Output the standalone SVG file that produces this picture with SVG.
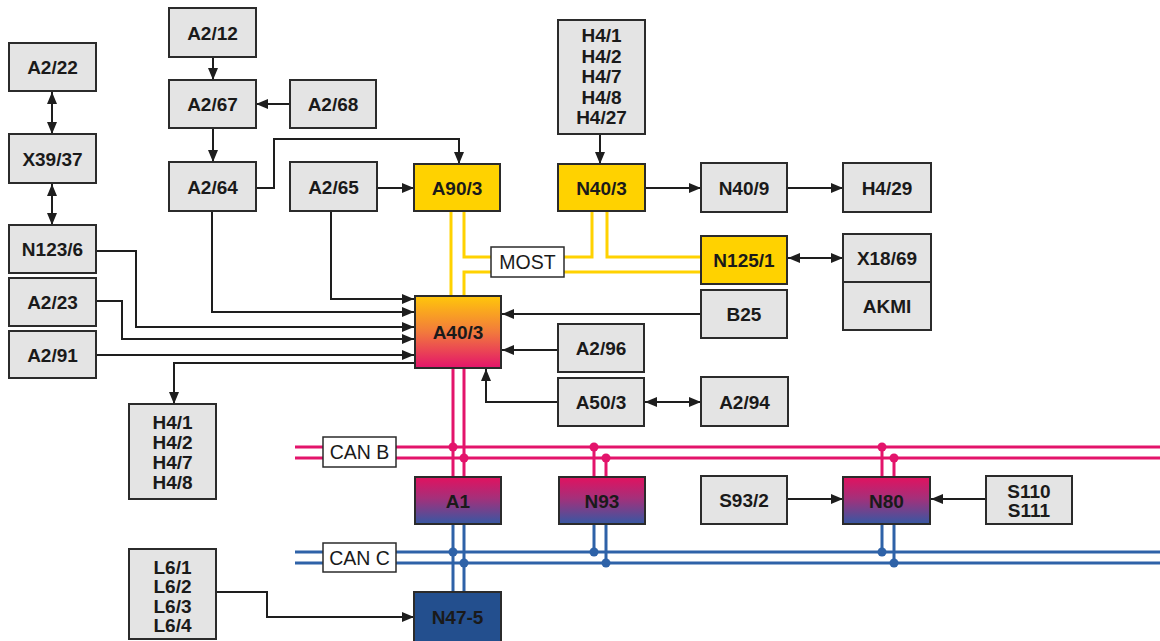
<svg xmlns="http://www.w3.org/2000/svg" width="1160" height="641" viewBox="0 0 1160 641">
<defs>
<style>
.g{fill:#e4e4e4;stroke:#2b2b2b;stroke-width:2}
.y{fill:#ffd200;stroke:#2b2b2b;stroke-width:2}
.w{fill:#fff;stroke:#2b2b2b;stroke-width:1.5}
.t{font-family:"Liberation Sans",Arial,sans-serif;font-weight:bold;font-size:19px;fill:#1a1a1a;text-anchor:middle}
.r{font-family:"Liberation Sans",Arial,sans-serif;font-size:19.5px;fill:#1a1a1a;text-anchor:middle}
.c{fill:none;stroke:#1e1e1e;stroke-width:2}
.ye{fill:none;stroke:#ffd200;stroke-width:3}
.mg{fill:none;stroke:#e3146b;stroke-width:3}
.bl{fill:none;stroke:#2e62a8;stroke-width:3}
</style>
<linearGradient id="gA40" x1="0" y1="0" x2="0" y2="1">
<stop offset="0" stop-color="#ffc70a"/>
<stop offset="0.5" stop-color="#f27a3c"/>
<stop offset="1" stop-color="#e3146b"/>
</linearGradient>
<linearGradient id="gMB" x1="0" y1="0" x2="0" y2="1">
<stop offset="0" stop-color="#e2115f"/>
<stop offset="0.45" stop-color="#a5307a"/>
<stop offset="1" stop-color="#3658a3"/>
</linearGradient>
<marker id="ah" viewBox="0 0 12 10" refX="12" refY="5" markerWidth="12" markerHeight="10" markerUnits="userSpaceOnUse" orient="auto-start-reverse">
<path d="M0,0 L12,5 L0,10 Z" fill="#1e1e1e"/>
</marker>
</defs>
<rect width="1160" height="641" fill="#fff"/>

<g id="buses">
<path class="ye" d="M451,211 V296"/>
<path class="ye" d="M464,211 V257 H491"/>
<path class="ye" d="M592,211 V257 H564"/>
<path class="ye" d="M607,211 V257 H701"/>
<path class="ye" d="M701,272 H564"/>
<path class="ye" d="M491,272 H464 V296"/>
<path class="mg" d="M295,447 H1160 M295,458 H1160"/>
<path class="mg" d="M453,368 V477 M464,368 V477 M594,447 V477 M606,458 V477 M882,447 V477 M894,458 V477"/>
<path class="bl" d="M295,552 H1160 M295,563 H1160"/>
<path class="bl" d="M453,524 V592 M464,524 V592 M594,524 V552 M606,524 V563 M882,524 V552 M894,524 V563"/>
<g fill="#e3146b">
<circle cx="453" cy="447" r="4.5"/><circle cx="464" cy="458" r="4.5"/>
<circle cx="594" cy="447" r="4.5"/><circle cx="606" cy="458" r="4.5"/>
<circle cx="882" cy="447" r="4.5"/><circle cx="894" cy="458" r="4.5"/>
</g>
<g fill="#2e62a8">
<circle cx="453" cy="552" r="4.5"/><circle cx="464" cy="563" r="4.5"/>
<circle cx="594" cy="552" r="4.5"/><circle cx="606" cy="563" r="4.5"/>
<circle cx="882" cy="552" r="4.5"/><circle cx="894" cy="563" r="4.5"/>
</g>
</g>

<g id="connectors">
<path class="c" d="M213,57 V80" marker-end="url(#ah)"/>
<path class="c" d="M290,104 H256" marker-end="url(#ah)"/>
<path class="c" d="M213,128 V162" marker-end="url(#ah)"/>
<path class="c" d="M256,188 H274 V139 H459 V164" marker-end="url(#ah)"/>
<path class="c" d="M377,188 H414" marker-end="url(#ah)"/>
<path class="c" d="M600,134 V164" marker-end="url(#ah)"/>
<path class="c" d="M645,188 H701" marker-end="url(#ah)"/>
<path class="c" d="M787,188 H843" marker-end="url(#ah)"/>
<path class="c" d="M788,258 H843" marker-start="url(#ah)" marker-end="url(#ah)"/>
<path class="c" d="M701,314 H502" marker-end="url(#ah)"/>
<path class="c" d="M558,350 H502" marker-end="url(#ah)"/>
<path class="c" d="M558,402 H486 V369" marker-end="url(#ah)"/>
<path class="c" d="M645,402 H701" marker-start="url(#ah)" marker-end="url(#ah)"/>
<path class="c" d="M331,211 V299 H414" marker-end="url(#ah)"/>
<path class="c" d="M212,211 V312 H414" marker-end="url(#ah)"/>
<path class="c" d="M96,251 H136 V327 H414" marker-end="url(#ah)"/>
<path class="c" d="M96,301 H122 V339 H414" marker-end="url(#ah)"/>
<path class="c" d="M96,355 H414" marker-end="url(#ah)"/>
<path class="c" d="M415,363 H174 V404" marker-end="url(#ah)"/>
<path class="c" d="M216,592 H267 V617 H414" marker-end="url(#ah)"/>
<path class="c" d="M787,499 H843" marker-end="url(#ah)"/>
<path class="c" d="M986,499 H931" marker-end="url(#ah)"/>
<path class="c" d="M52,92 V134" marker-start="url(#ah)" marker-end="url(#ah)"/>
<path class="c" d="M52,184 V225" marker-start="url(#ah)" marker-end="url(#ah)"/>
</g>

<g id="n-a2-22"><rect class="g" x="9" y="43" width="87" height="48"/><text class="t" x="52.5" y="74">A2/22</text></g>
<g id="n-x39-37"><rect class="g" x="9" y="134" width="87" height="49"/><text class="t" x="52.5" y="165.5">X39/37</text></g>
<g id="n-n123-6"><rect class="g" x="9" y="225" width="87" height="48"/><text class="t" x="52.5" y="256">N123/6</text></g>
<g id="n-a2-23"><rect class="g" x="9" y="278" width="87" height="48"/><text class="t" x="52.5" y="309">A2/23</text></g>
<g id="n-a2-91"><rect class="g" x="9" y="331" width="87" height="47"/><text class="t" x="52.5" y="361.5">A2/91</text></g>
<g id="n-a2-12"><rect class="g" x="169" y="8" width="87" height="49"/><text class="t" x="212.5" y="39.5">A2/12</text></g>
<g id="n-a2-67"><rect class="g" x="169" y="80" width="87" height="48"/><text class="t" x="212.5" y="111">A2/67</text></g>
<g id="n-a2-68"><rect class="g" x="290" y="80" width="86" height="48"/><text class="t" x="333" y="111">A2/68</text></g>
<g id="n-a2-64"><rect class="g" x="169" y="162" width="87" height="49"/><text class="t" x="212.5" y="193.5">A2/64</text></g>
<g id="n-a2-65"><rect class="g" x="290" y="162" width="87" height="49"/><text class="t" x="333.5" y="193.5">A2/65</text></g>
<g id="n-a90-3"><rect class="y" x="414" y="164" width="86" height="47"/><text class="t" x="457" y="194.5">A90/3</text></g>
<g id="n-h4-top"><rect class="g" x="558" y="20" width="87" height="114"/>
<text class="t" x="601.5" y="42">H4/1</text><text class="t" x="601.5" y="62.5">H4/2</text><text class="t" x="601.5" y="83">H4/7</text><text class="t" x="601.5" y="103.5">H4/8</text><text class="t" x="601.5" y="124">H4/27</text></g>
<g id="n-n40-3"><rect class="y" x="558" y="164" width="87" height="47"/><text class="t" x="601.5" y="194.5">N40/3</text></g>
<g id="n-n40-9"><rect class="g" x="701" y="163" width="86" height="49"/><text class="t" x="744" y="194.5">N40/9</text></g>
<g id="n-h4-29"><rect class="g" x="843" y="163" width="88" height="49"/><text class="t" x="887" y="194.5">H4/29</text></g>
<g id="n-most"><rect class="w" x="491" y="247" width="73" height="30"/><text class="r" x="527.5" y="269">MOST</text></g>
<g id="n-n125-1"><rect class="y" x="701" y="236" width="86" height="48"/><text class="t" x="744" y="267">N125/1</text></g>
<g id="n-x18-69"><rect class="g" x="843" y="234" width="88" height="48"/><text class="t" x="887" y="265">X18/69</text></g>
<g id="n-akmi"><rect class="g" x="843" y="282" width="88" height="48"/><text class="t" x="887" y="313">AKMI</text></g>
<g id="n-a40-3"><rect x="415" y="296" width="86" height="72" fill="url(#gA40)" stroke="#2b2b2b" stroke-width="2"/><text class="t" x="458" y="338.5">A40/3</text></g>
<g id="n-b25"><rect class="g" x="701" y="290" width="86" height="48"/><text class="t" x="744" y="321">B25</text></g>
<g id="n-a2-96"><rect class="g" x="558" y="324" width="86" height="48"/><text class="t" x="601" y="355">A2/96</text></g>
<g id="n-a50-3"><rect class="g" x="558" y="378" width="86" height="48"/><text class="t" x="601" y="409">A50/3</text></g>
<g id="n-a2-94"><rect class="g" x="701" y="377" width="87" height="49"/><text class="t" x="744.5" y="408.5">A2/94</text></g>
<g id="n-h4-bottom"><rect class="g" x="129" y="404" width="87" height="95"/>
<text class="t" x="172.5" y="429">H4/1</text><text class="t" x="172.5" y="449">H4/2</text><text class="t" x="172.5" y="469">H4/7</text><text class="t" x="172.5" y="489">H4/8</text></g>
<g id="n-can-b"><rect class="w" x="323" y="437" width="73" height="30"/><text class="r" x="359.5" y="459">CAN B</text></g>
<g id="n-a1"><rect x="415" y="477" width="86" height="47" fill="url(#gMB)" stroke="#2b2b2b" stroke-width="2"/><text class="t" x="458" y="507.5">A1</text></g>
<g id="n-n93"><rect x="559" y="477" width="86" height="47" fill="url(#gMB)" stroke="#2b2b2b" stroke-width="2"/><text class="t" x="602" y="507.5">N93</text></g>
<g id="n-s93-2"><rect class="g" x="701" y="476" width="86" height="48"/><text class="t" x="744" y="507">S93/2</text></g>
<g id="n-n80"><rect x="843" y="477" width="87" height="47" fill="url(#gMB)" stroke="#2b2b2b" stroke-width="2"/><text class="t" x="886.5" y="507.5">N80</text></g>
<g id="n-s110"><rect class="g" x="986" y="476" width="86" height="48"/><text class="t" x="1029" y="497.5">S110</text><text class="t" x="1029" y="517">S111</text></g>
<g id="n-can-c"><rect class="w" x="323" y="543" width="73" height="29"/><text class="r" x="359.5" y="564.5">CAN C</text></g>
<g id="n-l6"><rect class="g" x="129" y="549" width="87" height="90"/>
<text class="t" x="172.5" y="573.5">L6/1</text><text class="t" x="172.5" y="593">L6/2</text><text class="t" x="172.5" y="612.5">L6/3</text><text class="t" x="172.5" y="632">L6/4</text></g>
<g id="n-n47-5"><rect x="414" y="592" width="87" height="56" fill="#234f8e" stroke="#2b2b2b" stroke-width="2"/><text class="t" x="457.5" y="623.5">N47-5</text></g>
</svg>
